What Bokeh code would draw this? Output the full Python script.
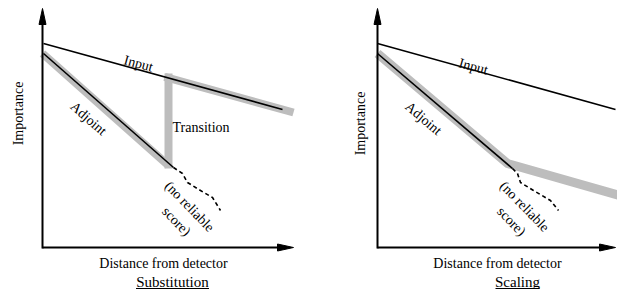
import numpy as np
from bokeh.plotting import figure
from bokeh.models import Range1d
from bokeh.core.properties import value
from bokeh.embed import file_html
from bokeh.resources import INLINE

# ---- schematic data (per panel: 0 = Substitution, 1 = Scaling) ----
panel_titles = ["Substitution", "Scaling"]
origin_x = [42, 377]          # horizontal placement of each panel's origin
origin_y = 58
x_axis_len = [251, 238]       # "distance" axis extent
y_axis_len = 239              # "importance" axis extent

input_d = [[1, 240], [0, 238]]
input_imp = [[204, 138], [204, 138]]

adjoint_d = [[1, 131], [0, 135]]
adjoint_imp = [[194, 80], [194, 79]]

# grey "weight" bands (segments)
grey_x0 = [[0, 126, 122], [0, 130]]
grey_y0 = [[194, 79, 170.6], [194, 84]]
grey_x1 = [[126, 126, 251], [130, 256]]
grey_y1 = [[82, 174, 135], [84, 48]]

dash_d = [[131, 140, 145, 158, 170, 178], [135, 140, 143, 156, 173, 181]]
dash_imp = [[80, 74, 65, 57, 50, 37], [79, 74, 65, 57, 47, 37]]

FONT = value("Liberation Serif")
GREY = "#bdbdbd"

p = figure(width=617, height=289, x_range=Range1d(0, 617), y_range=Range1d(16, 305),
           x_axis_type=None, y_axis_type=None, toolbar_location=None,
           output_backend="svg", min_border=0, outline_line_color=None,
           background_fill_color="white", border_fill_color="white")
p.grid.visible = False

for i in range(2):
    ox, oy = origin_x[i], origin_y
    X = lambda a: list(np.array(a, dtype=float) + ox)
    Y = lambda a: list(np.array(a, dtype=float) + oy)

    # grey bands
    gw = 8 if i == 0 else 9
    if i == 0:
        p.segment(X(grey_x0[i]), Y(grey_y0[i]), X(grey_x1[i]), Y(grey_y1[i]),
                  line_color=GREY, line_width=gw, line_cap="butt")
    else:
        p.line(X([grey_x0[i][0], grey_x1[i][0], grey_x1[i][1]]),
               Y([grey_y0[i][0], grey_y1[i][0], grey_y1[i][1]]),
               line_color=GREY, line_width=gw, line_join="miter", line_cap="butt")

    # axes with arrowheads
    L = x_axis_len[i]
    head_len, head_w = 16, 7
    p.line(X([0, 0]), Y([-1, y_axis_len - head_len + 2]), line_color="black", line_width=2)
    p.line(X([0, L - head_len + 2]), Y([0, 0]), line_color="black", line_width=2)
    p.patch(X([0, -head_w / 2, head_w / 2]), Y([y_axis_len, y_axis_len - head_len, y_axis_len - head_len]),
            fill_color="black", line_color="black")
    p.patch(X([L, L - head_len, L - head_len]), Y([0, head_w / 2, -head_w / 2]),
            fill_color="black", line_color="black")

    # input, adjoint, dashed
    p.line(X(input_d[i]), Y(input_imp[i]), line_color="black", line_width=1.6)
    p.line(X(adjoint_d[i]), Y(adjoint_imp[i]), line_color="black", line_width=1.6)
    p.line(X(dash_d[i]), Y(dash_imp[i]), line_color="black", line_width=1.6, line_dash="4 3")

    # slope angles for labels
    a_in = np.arctan2(input_imp[i][1] - input_imp[i][0], input_d[i][1] - input_d[i][0])
    a_adj = np.arctan2(adjoint_imp[i][1] - adjoint_imp[i][0], adjoint_d[i][1] - adjoint_d[i][0])

    labels = [
        ("Input", 96, 184 if i == 0 else 181, a_in, "center"),
        ("Adjoint", 46, 129, a_adj, "center"),
        ("(no reliable", 147, 41, -0.80, "center"),
        ("score)", 134, 26, -0.80, "center"),
        ("Importance", -24 if i == 0 else -17, 134 if i == 0 else 124, np.pi / 2, "center"),
        ("Distance from detector", 121 if i == 0 else 120, -16, 0, "center"),
    ]
    if i == 0:
        labels.append(("Transition", 130, 120, 0, "left"))
    for txt, dx, dy, ang, al in labels:
        p.text(X([dx]), Y([dy]), text=[txt], angle=ang, text_font=FONT,
               text_font_size="14px", text_align=al, text_baseline="middle",
               text_color="black")

    # underlined panel title
    tx = 130 if i == 0 else 140
    p.text(X([tx]), Y([-34]), text=[panel_titles[i]], text_font=FONT,
           text_font_size="15px", text_align="center", text_baseline="middle",
           text_color="black")
    half = 36.5 if i == 0 else 22
    p.line(X([tx - half, tx + half]), Y([-41, -41]), line_color="black", line_width=1)

open("out.html", "w").write(file_html(p, INLINE))
